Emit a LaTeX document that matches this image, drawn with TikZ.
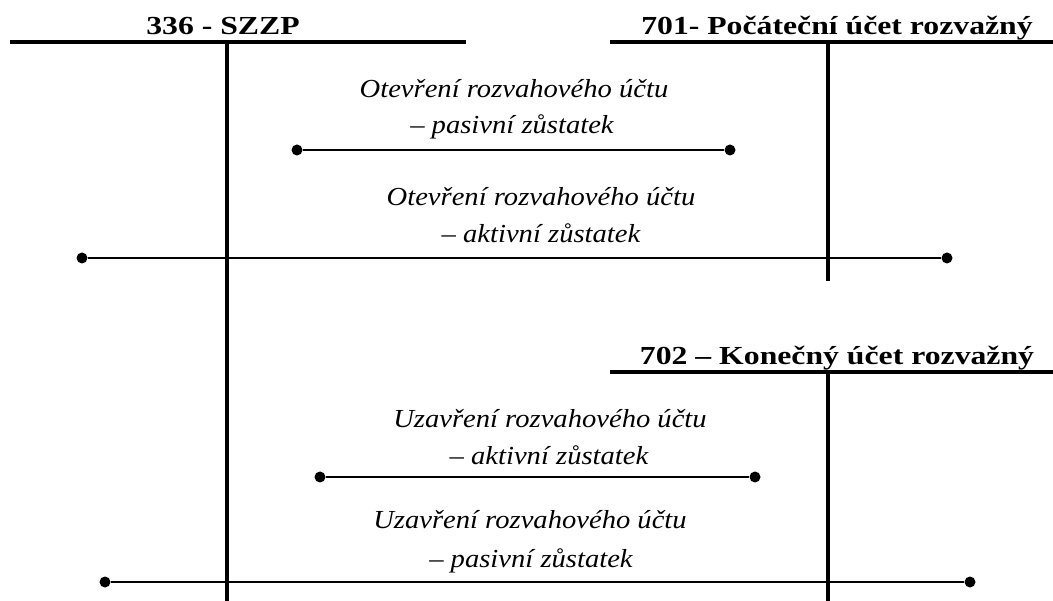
\documentclass[tikz,border=0pt]{standalone}
\usepackage{fontspec}
\newfontfamily\headfont[FakeStretch=1.22]{Liberation Serif}
\newfontfamily\notefont[FakeStretch=1.1]{Liberation Serif}
\begin{document}
\begin{tikzpicture}[x=1pt,y=-1pt,
  tline/.style={line width=3.5pt},
  conn/.style={line width=1.8pt},
  dot/.style={circle,fill=black,inner sep=0pt,minimum size=11pt},
  head/.style={font=\headfont\bfseries\fontsize{26}{30}\selectfont,anchor=base,inner sep=0pt},
  note/.style={font=\notefont\itshape\fontsize{26}{30}\selectfont,anchor=base,inner sep=0pt}]
\useasboundingbox (0,0) rectangle (1053,601);

% T-account 336
\node[head] (h336) at (223,35) {336 - SZZP};
\coordinate (t1l) at (10,42);
\coordinate (t1r) at (466,42);
\coordinate (t1t) at (227,42);
\coordinate (t1b) at (227,601);
\draw[tline] (t1l) -- (t1r);
\draw[tline] (t1t) -- (t1b);

% T-account 701
\node[head] (h701) at (837,35) {701- Počáteční účet rozvažný};
\coordinate (t2l) at (610,42);
\coordinate (t2r) at (1053,42);
\coordinate (t2t) at (828,42);
\coordinate (t2b) at (828,281);
\draw[tline] (t2l) -- (t2r);
\draw[tline] (t2t) -- (t2b);

% T-account 702
\node[head] (h702) at (837,365) {702 – Konečný účet rozvažný};
\coordinate (t3l) at (610,372);
\coordinate (t3r) at (1053,372);
\coordinate (t3t) at (828,372);
\coordinate (t3b) at (828,601);
\draw[tline] (t3l) -- (t3r);
\draw[tline] (t3t) -- (t3b);

% opening entry, liabilities
\node[note] (n1a) at (514,98) {Otevření rozvahového účtu};
\node[note] (n1b) at (512,134) {– pasivní zůstatek};
\node[dot] (d1a) at (297,150) {};
\node[dot] (d1b) at (730,150) {};
\draw[conn] (d1a) -- (d1b);

% opening entry, assets
\node[note] (n2a) at (541,206) {Otevření rozvahového účtu};
\node[note] (n2b) at (541,243) {– aktivní zůstatek};
\node[dot] (d2a) at (82,258) {};
\node[dot] (d2b) at (947,258) {};
\draw[conn] (d2a) -- (d2b);

% closing entry, assets
\node[note] (n3a) at (550,428) {Uzavření rozvahového účtu};
\node[note] (n3b) at (549,465) {– aktivní zůstatek};
\node[dot] (d3a) at (320,477) {};
\node[dot] (d3b) at (755,477) {};
\draw[conn] (d3a) -- (d3b);

% closing entry, liabilities
\node[note] (n4a) at (530,529) {Uzavření rozvahového účtu};
\node[note] (n4b) at (531,567) {– pasivní zůstatek};
\node[dot] (d4a) at (105,582) {};
\node[dot] (d4b) at (970,582) {};
\draw[conn] (d4a) -- (d4b);
\end{tikzpicture}
\end{document}
